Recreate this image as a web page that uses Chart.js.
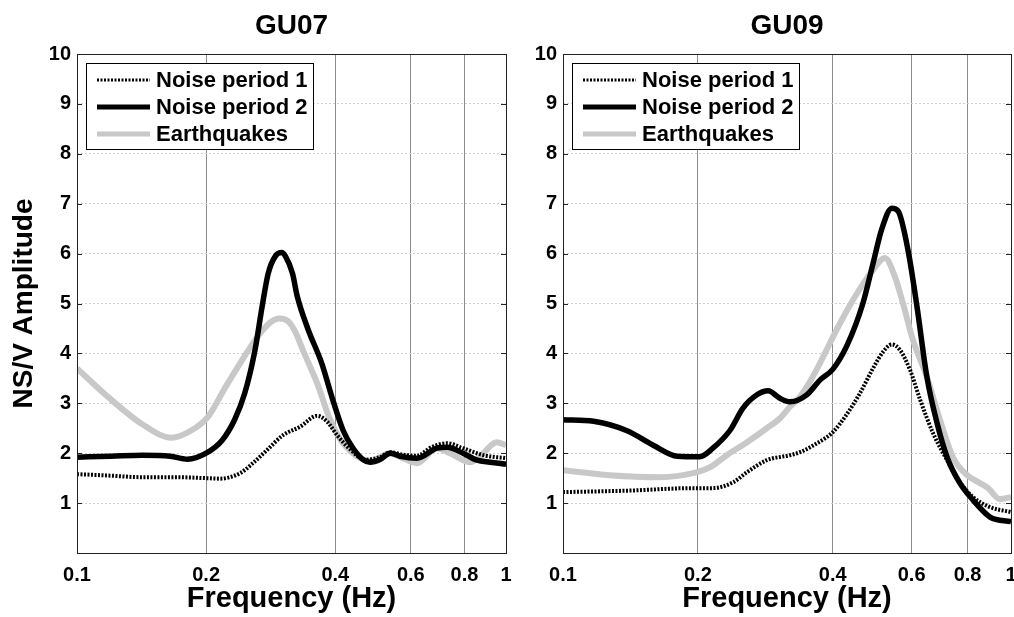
<!DOCTYPE html>
<html lang="en">
<head>
<meta charset="UTF-8">
<title>NS/V Amplitude</title>
<script src="https://cdn.jsdelivr.net/npm/chart.js@4/dist/chart.umd.min.js"></script>
<style>
  html, body { margin: 0; padding: 0; background: #fff; overflow: hidden; }
  canvas { position: absolute; top: 0; }
  #gu07 { left: 0; }
  #gu09 { left: 512px; }
</style>
</head>
<body>
<canvas id="gu07" width="512" height="617"></canvas>
<canvas id="gu09" width="512" height="617"></canvas>

<script>
  // frequency ticks shown on the log axis
  const freqTicks = [0.1, 0.2, 0.4, 0.6, 0.8, 1];

  // GU07
  const gu07Noise1Freq = [0.1, 0.12, 0.14, 0.17, 0.2, 0.215, 0.24, 0.257, 0.277, 0.302, 0.331, 0.363, 0.383, 0.404, 0.433, 0.469, 0.508, 0.537, 0.575, 0.62, 0.67, 0.729, 0.794, 0.886, 1.0];
  const gu07Noise1Amp  = [1.58, 1.55, 1.52, 1.52, 1.5, 1.49, 1.6, 1.8, 2.06, 2.36, 2.53, 2.75, 2.63, 2.36, 2.08, 1.87, 1.92, 2.02, 1.97, 1.95, 2.12, 2.2, 2.1, 1.96, 1.9];

  const gu07Noise2Freq = [0.1, 0.12, 0.142, 0.165, 0.181, 0.2, 0.218, 0.233, 0.246, 0.26, 0.27, 0.279, 0.29, 0.3, 0.306, 0.318, 0.326, 0.345, 0.372, 0.393, 0.417, 0.44, 0.465, 0.482, 0.51, 0.537, 0.566, 0.62, 0.69, 0.73, 0.794, 0.856, 0.918, 1.0];
  const gu07Noise2Amp  = [1.92, 1.94, 1.96, 1.94, 1.88, 2.0, 2.26, 2.67, 3.2, 4.07, 4.93, 5.6, 5.95, 6.02, 5.95, 5.6, 5.15, 4.5, 3.8, 3.12, 2.46, 2.1, 1.87, 1.82, 1.88, 2.0, 1.94, 1.9, 2.1, 2.12, 2.0, 1.86, 1.82, 1.78];

  const gu07QuakeFreq  = [0.1, 0.118, 0.142, 0.166, 0.185, 0.202, 0.221, 0.242, 0.257, 0.27, 0.283, 0.296, 0.31, 0.322, 0.336, 0.363, 0.389, 0.417, 0.457, 0.482, 0.537, 0.575, 0.62, 0.69, 0.74, 0.824, 0.869, 0.952, 1.0];
  const gu07QuakeAmp   = [3.7, 3.13, 2.58, 2.31, 2.46, 2.73, 3.3, 3.85, 4.2, 4.45, 4.63, 4.7, 4.65, 4.45, 4.07, 3.4, 2.67, 2.2, 1.9, 1.84, 2.0, 1.9, 1.8, 2.1, 2.0, 1.82, 1.93, 2.22, 2.16];

  // GU09
  const gu09Noise1Freq = [0.1, 0.14, 0.195, 0.216, 0.24, 0.2575, 0.285, 0.321, 0.338, 0.369, 0.4, 0.43, 0.46, 0.492, 0.52, 0.542, 0.565, 0.595, 0.627, 0.67, 0.72, 0.769, 0.823, 0.898, 1.0];
  const gu09Noise1Amp  = [1.22, 1.25, 1.3, 1.3, 1.42, 1.62, 1.86, 1.96, 2.02, 2.2, 2.42, 2.78, 3.2, 3.7, 4.05, 4.18, 4.07, 3.67, 3.07, 2.4, 1.86, 1.42, 1.12, 0.92, 0.82];

  const gu09Noise2Freq = [0.1, 0.117, 0.139, 0.159, 0.18, 0.202, 0.216, 0.236, 0.252, 0.271, 0.287, 0.305, 0.321, 0.35, 0.375, 0.4, 0.43, 0.467, 0.492, 0.515, 0.542, 0.56, 0.589, 0.617, 0.649, 0.684, 0.72, 0.769, 0.823, 0.898, 1.0];
  const gu09Noise2Amp  = [2.67, 2.64, 2.45, 2.16, 1.94, 1.93, 2.1, 2.46, 2.9, 3.17, 3.25, 3.1, 3.03, 3.17, 3.47, 3.68, 4.15, 5.0, 5.8, 6.5, 6.91, 6.85, 6.07, 4.93, 3.53, 2.6, 1.92, 1.4, 1.06, 0.72, 0.63];

  const gu09QuakeFreq  = [0.1, 0.127, 0.165, 0.195, 0.213, 0.232, 0.2575, 0.285, 0.305, 0.321, 0.338, 0.361, 0.415, 0.453, 0.492, 0.523, 0.551, 0.574, 0.604, 0.649, 0.694, 0.742, 0.798, 0.853, 0.889, 0.945, 1.0];
  const gu09QuakeAmp   = [1.66, 1.56, 1.52, 1.6, 1.72, 1.96, 2.22, 2.5, 2.7, 2.93, 3.13, 3.53, 4.6, 5.2, 5.67, 5.91, 5.53, 5.0, 4.27, 3.53, 2.67, 1.92, 1.56, 1.4, 1.3, 1.08, 1.12];

  const FONT = '"Liberation Sans", Arial, sans-serif';
  const tickFont = { family: FONT, size: 20, weight: 'bold' };
  const bigFont = { family: FONT, size: 28, weight: 'bold' };

  const pts = (fs, as) => fs.map((f, i) => ({ x: f, y: as[i] }));

  function makeSets(n1f, n1a, n2f, n2a, qf, qa) {
    const common = { pointRadius: 0, fill: false, clip: 0, cubicInterpolationMode: 'monotone', borderJoinStyle: 'round' };
    return [
      { ...common, label: 'Noise period 1', data: pts(n1f, n1a), borderColor: '#000', borderWidth: 4, borderDash: [2, 1.5] },
      { ...common, label: 'Noise period 2', data: pts(n2f, n2a), borderColor: '#000', borderWidth: 5.5 },
      { ...common, label: 'Earthquakes', data: pts(qf, qa), borderColor: '#c8c8c8', borderWidth: 6 }
    ];
  }

  // axes box with inward ticks, drawn over the curves
  const frame = {
    id: 'frame',
    afterDatasetsDraw(chart) {
      const { ctx, chartArea: a, scales } = chart;
      ctx.save();
      ctx.strokeStyle = '#222';
      ctx.lineWidth = 1;
      ctx.beginPath();
      for (let v = 1; v < 10; v++) {
        const y = Math.round(scales.y.getPixelForValue(v)) + 0.5;
        ctx.moveTo(a.left, y); ctx.lineTo(a.left + 5, y);
        ctx.moveTo(a.right, y); ctx.lineTo(a.right - 5, y);
      }
      ctx.stroke();
      ctx.strokeRect(Math.round(a.left) + 0.5, Math.round(a.top) + 0.5, Math.round(a.right - a.left), Math.round(a.bottom - a.top));
      ctx.restore();
    }
  };

  const boxLegend = {
    id: 'boxLegend',
    afterDatasetsDraw(chart) {
      const { ctx, chartArea } = chart;
      const x = Math.round(chartArea.left) + 9, y = Math.round(chartArea.top) + 9;
      ctx.save();
      ctx.fillStyle = '#fff';
      ctx.fillRect(x, y, 227, 86);
      ctx.strokeStyle = '#000';
      ctx.lineWidth = 1;
      ctx.strokeRect(x + 0.5, y + 0.5, 227, 86);
      chart.data.datasets.forEach((ds, i) => {
        const ly = y + 17 + i * 27;
        ctx.beginPath();
        ctx.setLineDash(ds.borderDash || []);
        ctx.lineWidth = i === 0 ? 3 : 5;
        ctx.strokeStyle = ds.borderColor;
        ctx.moveTo(x + 11, ly);
        ctx.lineTo(x + 64, ly);
        ctx.stroke();
        ctx.setLineDash([]);
        ctx.fillStyle = '#000';
        ctx.font = 'bold 22px ' + FONT;
        ctx.textBaseline = 'middle';
        ctx.fillText(ds.label, x + 70, ly + 1);
      });
      ctx.restore();
    }
  };

  function makeChart(id, title, datasets, yWidth, padRight, showYTitle) {
    return new Chart(document.getElementById(id), {
      type: 'line',
      data: { datasets },
      plugins: [frame, boxLegend],
      options: {
        responsive: false,
        animation: false,
        devicePixelRatio: 1,
        layout: { padding: { top: 0, right: padRight, bottom: 0, left: 0 } },
        plugins: {
          legend: { display: false },
          tooltip: { enabled: false },
          title: {
            display: true, text: title, fullSize: false, color: '#000',
            font: bigFont, padding: { top: 9.5, bottom: 10.9 }
          }
        },
        scales: {
          x: {
            type: 'logarithmic', min: 0.1, max: 1,
            afterBuildTicks: s => { s.ticks = freqTicks.map(v => ({ value: v })); },
            afterFit: s => { s.height = 64; s.paddingLeft = 0; s.paddingRight = 0; },
            ticks: { callback: v => String(v), font: tickFont, color: '#000', padding: 10, autoSkip: false, maxRotation: 0 },
            grid: { color: '#8c8c8c', lineWidth: 1, drawTicks: false },
            border: { display: false },
            title: { display: true, text: 'Frequency (Hz)', color: '#000', font: { ...bigFont, size: 29 }, padding: { top: 0, bottom: 1 } }
          },
          y: {
            min: 0, max: 10,
            afterFit: s => { s.width = yWidth; },
            ticks: { stepSize: 1, callback: v => (v === 0 ? '' : v), font: tickFont, color: '#000', padding: 6 },
            grid: { color: '#cfcfcf', lineWidth: 1, drawTicks: false },
            border: { display: false, dash: [2, 2] },
            title: { display: showYTitle, text: 'NS/V Amplitude', color: '#000', font: bigFont, padding: { top: 7, bottom: 0 } }
          }
        }
      }
    });
  }

  makeChart('gu07', 'GU07',
    makeSets(gu07Noise1Freq, gu07Noise1Amp, gu07Noise2Freq, gu07Noise2Amp, gu07QuakeFreq, gu07QuakeAmp),
    77, 6, true);

  makeChart('gu09', 'GU09',
    makeSets(gu09Noise1Freq, gu09Noise1Amp, gu09Noise2Freq, gu09Noise2Amp, gu09QuakeFreq, gu09QuakeAmp),
    51, 13, false);
</script>
</body>
</html>
